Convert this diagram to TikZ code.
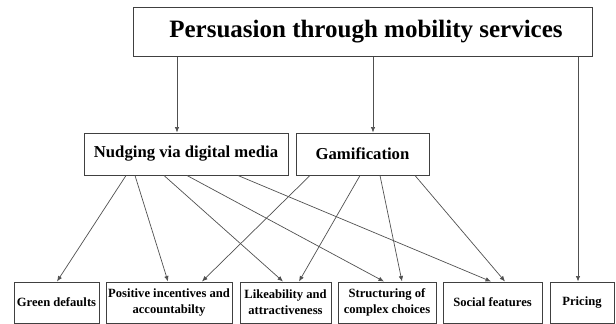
\documentclass[tikz,border=0pt]{standalone}
\usepackage{fontspec}
\setmainfont{Liberation Serif}
\usetikzlibrary{arrows.meta}
\definecolor{boxgray}{HTML}{404040}
\definecolor{linegray}{HTML}{505050}

\tikzset{
  box/.style={draw=boxgray, line width=1pt, fill=white, align=center, inner sep=0pt},
  toptext/.style={font=\bfseries\fontsize{25}{30}\selectfont},
  midtext/.style={font=\bfseries\fontsize{16.7}{20}\selectfont},
  lowtext/.style={font=\bfseries\fontsize{12.6}{16}\selectfont},
  arr/.style={draw=linegray, line width=0.7pt, -{Latex[length=5.5pt,width=4.5pt]}},
}

\begin{document}
\begin{tikzpicture}[x=1pt,y=-1pt]
  \useasboundingbox (0,0) rectangle (616,324);

  \node[box, toptext, minimum width=459pt, minimum height=49pt] (top) at (362.5,31.5) {\hspace{7pt}Persuasion through mobility services};

  \node[box, midtext, minimum width=204pt, minimum height=42pt] (nudge) at (186,154) {Nudging via digital media};
  \node[box, midtext, minimum width=133pt, minimum height=42pt] (game) at (362.5,154) {Gamification};

  \node[box, lowtext, minimum width=85pt, minimum height=41pt] (green) at (56.5,302.5) {Green defaults};
  \node[box, lowtext, minimum width=126pt, minimum height=41pt] (positive) at (169,302.5) {Positive incentives and\\accountabilty};
  \node[box, lowtext, minimum width=91pt, minimum height=41pt] (like) at (285.5,302.5) {Likeability and\\attractiveness};
  \node[box, lowtext, minimum width=98pt, minimum height=41pt] (struct) at (387,302.5) {Structuring of\\complex choices};
  \node[box, lowtext, minimum width=99pt, minimum height=41pt] (social) at (492.5,302.5) {Social features};
  \node[box, lowtext, minimum width=64pt, minimum height=41pt] (pricing) at (582,302.5) {Pricing};

  % top level
  \draw[arr] (top.south -| 177,0) -- (nudge.north -| 177,0);
  \draw[arr] (top.south -| 373,0) -- (game.north -| 373,0);
  \draw[arr] (top.south -| 578,0) -- (pricing.north -| 578,0);

  % nudging
  \draw[arr] (nudge.south -| 126,0) -- (green.north -| 57,0);
  \draw[arr] (nudge.south -| 135,0) -- (positive.north -| 168,0);
  \draw[arr] (nudge.south -| 164,0) -- (like.north -| 283,0);
  \draw[arr] (nudge.south -| 187,0) -- (struct.north -| 384,0);
  \draw[arr] (nudge.south -| 238,0) -- (social.north -| 491,0);

  % gamification
  \draw[arr] (game.south -| 310,0) -- (positive.north -| 202,0);
  \draw[arr] (game.south -| 360,0) -- (like.north -| 299,0);
  \draw[arr] (game.south -| 380,0) -- (struct.north -| 402,0);
  \draw[arr] (game.south -| 415,0) -- (social.north -| 505,0);
\end{tikzpicture}
\end{document}
